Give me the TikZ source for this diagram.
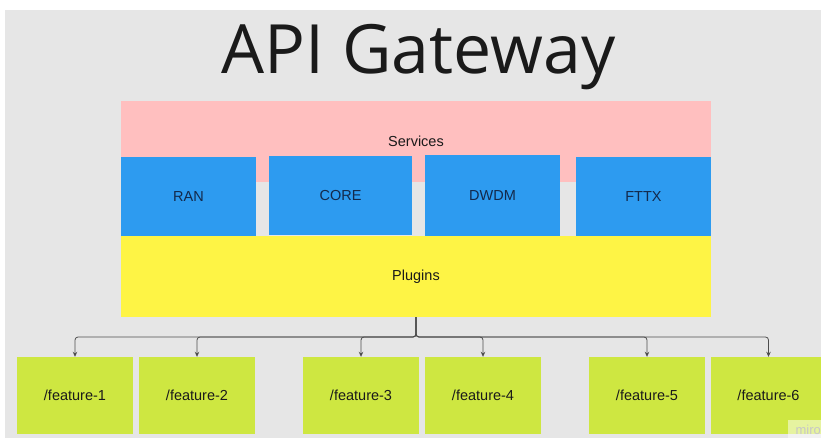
\documentclass[tikz,border=0pt]{standalone}
\usepackage{fontspec}
\setmainfont{Liberation Sans}
\newfontfamily\titlefont{Open Sans}
\usepackage{tikz}
\usetikzlibrary{arrows.meta}

\definecolor{bggray}{HTML}{E6E6E6}
\definecolor{svcpink}{HTML}{FFBFBF}
\definecolor{svcblue}{HTML}{2D9BF0}
\definecolor{plugyellow}{HTML}{FEF445}
\definecolor{featlime}{HTML}{CEE741}
\definecolor{inktext}{HTML}{1A1A1A}
\definecolor{navytext}{HTML}{13294B}
\definecolor{linkgray}{HTML}{4D4D4D}

\tikzset{
    layer/.style = {fill=#1, draw=none, inner sep=0pt, font=\fontsize{14.5}{17}\selectfont, text=inktext},
    svcbox/.style = {fill=svcblue, draw=none, inner sep=0pt, minimum height=79pt, font=\fontsize{14.5}{17}\selectfont, text=navytext},
    featbox/.style = {fill=featlime, draw=none, inner sep=0pt, minimum width=116pt, minimum height=77pt, font=\fontsize{14.5}{17}\selectfont, text=inktext},
    link/.style = {draw=linkgray, line width=0.8pt, rounded corners=3pt, -{Stealth[length=5pt,width=4.5pt]}}
}

\begin{document}
\begin{tikzpicture}[x=1pt, y=-1pt]
            \useasboundingbox (0, 0) rectangle (821, 438);
            \fill[white] (0, 0) rectangle (821, 438);
            \fill[bggray] (5, 10) rectangle (821, 438);

            \node[anchor=base, text=inktext, font=\titlefont\fontsize{68}{80}\selectfont] (title) at (418.5, 74) {API Gateway};

            \node[layer=svcpink, minimum width=590pt, minimum height=81.5pt] (services) at (416, 141.75) {Services};
            \node[svcbox, minimum width=135pt] (ran) at (188.5, 196.5) {RAN};
            \node[svcbox, minimum width=143pt] (core) at (340.5, 196) {CORE};
            \node[svcbox, minimum width=135pt, minimum height=80.5pt] (dwdm) at (492.5, 195.75) {DWDM};
            \node[svcbox, minimum width=135pt] (fttx) at (643.5, 196.5) {FTTX};
            \node[layer=plugyellow, minimum width=590pt, minimum height=81pt] (plugins) at (416, 276.5) {Plugins};

            \node[featbox] (feat1) at (75, 395.5) {/feature-1};
            \node[featbox] (feat2) at (197, 395.5) {/feature-2};
            \node[featbox] (feat3) at (361, 395.5) {/feature-3};
            \node[featbox] (feat4) at (483, 395.5) {/feature-4};
            \node[featbox] (feat5) at (647, 395.5) {/feature-5};
            \node[featbox] (feat6) at (768.5, 395.5) {/feature-6};

            \coordinate (bus) at (416, 337);
            \draw[link] (plugins.south) -- (bus) -| (feat1.north);
            \draw[link] (plugins.south) -- (bus) -| (feat2.north);
            \draw[link] (plugins.south) -- (bus) -| (feat3.north);
            \draw[link] (plugins.south) -- (bus) -| (feat4.north);
            \draw[link] (plugins.south) -- (bus) -| (feat5.north);
            \draw[link] (plugins.south) -- (bus) -| (feat6.north);

            \fill[white, opacity=0.5] (788, 420) rectangle (821, 438);
            \node[anchor=west, text=black!22, font=\fontsize{13}{15}\selectfont] (miro) at (792, 430) {miro};
\end{tikzpicture}
\end{document}
